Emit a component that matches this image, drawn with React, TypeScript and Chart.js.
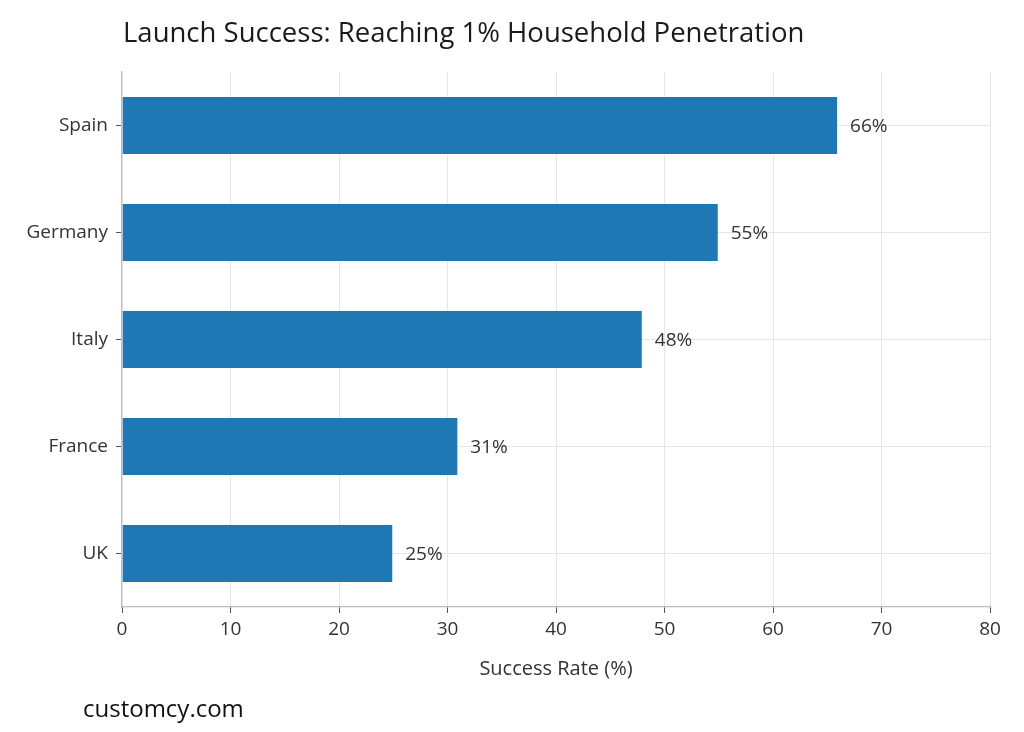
import React, { useEffect, useRef } from "react";
import { Chart, registerables } from "chart.js";

Chart.register(...registerables);

const categories = ["Spain", "Germany", "Italy", "France", "UK"];
const successRates = [66, 55, 48, 31, 25];
const xTicks = [0, 10, 20, 30, 40, 50, 60, 70, 80];

const titleText = "Launch Success: Reaching 1% Household Penetration";
const footerText = "customcy.com";
const xAxisTitle = "Success Rate (%)";

const FONT = "'Open Sans', Roboto, sans-serif";

// Title above the plot area and the site credit below it.
const headerFooterPlugin = {
  id: "headerFooter",
  afterDraw(chart: any) {
    const { ctx, chartArea } = chart;
    ctx.save();
    ctx.textBaseline = "alphabetic";
    ctx.textAlign = "left";
    ctx.fillStyle = "#1a1a1a";
    ctx.font = `27.5px ${FONT}`;
    ctx.fillText(titleText, chartArea.left + 1, 42);
    ctx.fillStyle = "#111111";
    ctx.font = `24px ${FONT}`;
    ctx.fillText(footerText, 83, 717);
    ctx.restore();
  },
};

// Percentage labels just past the end of each bar.
const valueLabelPlugin = {
  id: "valueLabels",
  afterDatasetsDraw(chart: any) {
    const { ctx } = chart;
    const meta = chart.getDatasetMeta(0);
    ctx.save();
    ctx.font = `19px ${FONT}`;
    ctx.fillStyle = "#333333";
    ctx.textAlign = "left";
    ctx.textBaseline = "middle";
    meta.data.forEach((bar: any, i: number) => {
      ctx.fillText(`${successRates[i]}%`, bar.x + 12, bar.y + 1);
    });
    ctx.restore();
  },
};

export default function App() {
  const canvasRef = useRef<HTMLCanvasElement | null>(null);

  useEffect(() => {
    document.body.style.margin = "0";
    const canvas = canvasRef.current;
    if (!canvas) return;
    const chart = new Chart(canvas, {
      type: "bar",
      data: {
        labels: categories,
        datasets: [
          {
            data: successRates,
            backgroundColor: "#1f77b4",
            borderColor: "rgba(255,255,255,0.35)",
            borderWidth: 1,
            barPercentage: 0.55,
            categoryPercentage: 1,
          },
        ],
      },
      options: {
        indexAxis: "y",
        animation: false,
        responsive: true,
        maintainAspectRatio: false,
        layout: { padding: { top: 72, right: 34, bottom: 45, left: 0 } },
        plugins: {
          legend: { display: false },
          title: { display: false },
          tooltip: { enabled: false },
        },
        scales: {
          x: {
            type: "linear",
            min: xTicks[0],
            max: xTicks[xTicks.length - 1],
            afterBuildTicks(axis: any) {
              axis.ticks = xTicks.map((v) => ({ value: v }));
            },
            afterFit(axis: any) {
              axis.height = 80;
            },
            grid: {
              color: "#e6e6e6",
              lineWidth: 1,
              tickColor: "#555555",
              tickLength: 6,
              drawTicks: true,
            },
            border: { display: true, color: "#bdbdbd", width: 1.2 },
            ticks: {
              color: "#333333",
              padding: 5,
              font: { family: FONT, size: 19 },
            },
            title: {
              display: true,
              text: xAxisTitle,
              color: "#333333",
              font: { family: FONT, size: 20 },
              padding: { top: 0, bottom: 6 },
            },
          },
          y: {
            type: "category",
            offset: true,
            afterFit(axis: any) {
              axis.width = 122;
            },
            grid: {
              offset: false,
              color: "#e6e6e6",
              lineWidth: 1,
              tickColor: "#555555",
              tickLength: 6,
            },
            border: { display: true, color: "#bdbdbd", width: 1.2 },
            ticks: {
              color: "#333333",
              padding: 8,
              font: { family: FONT, size: 19 },
            },
          },
        },
      },
      plugins: [valueLabelPlugin, headerFooterPlugin],
    });
    return () => chart.destroy();
  }, []);

  return (
    <div style={{ position: "absolute", left: 0, top: 0, width: 1024, height: 732 }}>
      <canvas ref={canvasRef} />
    </div>
  );
}
